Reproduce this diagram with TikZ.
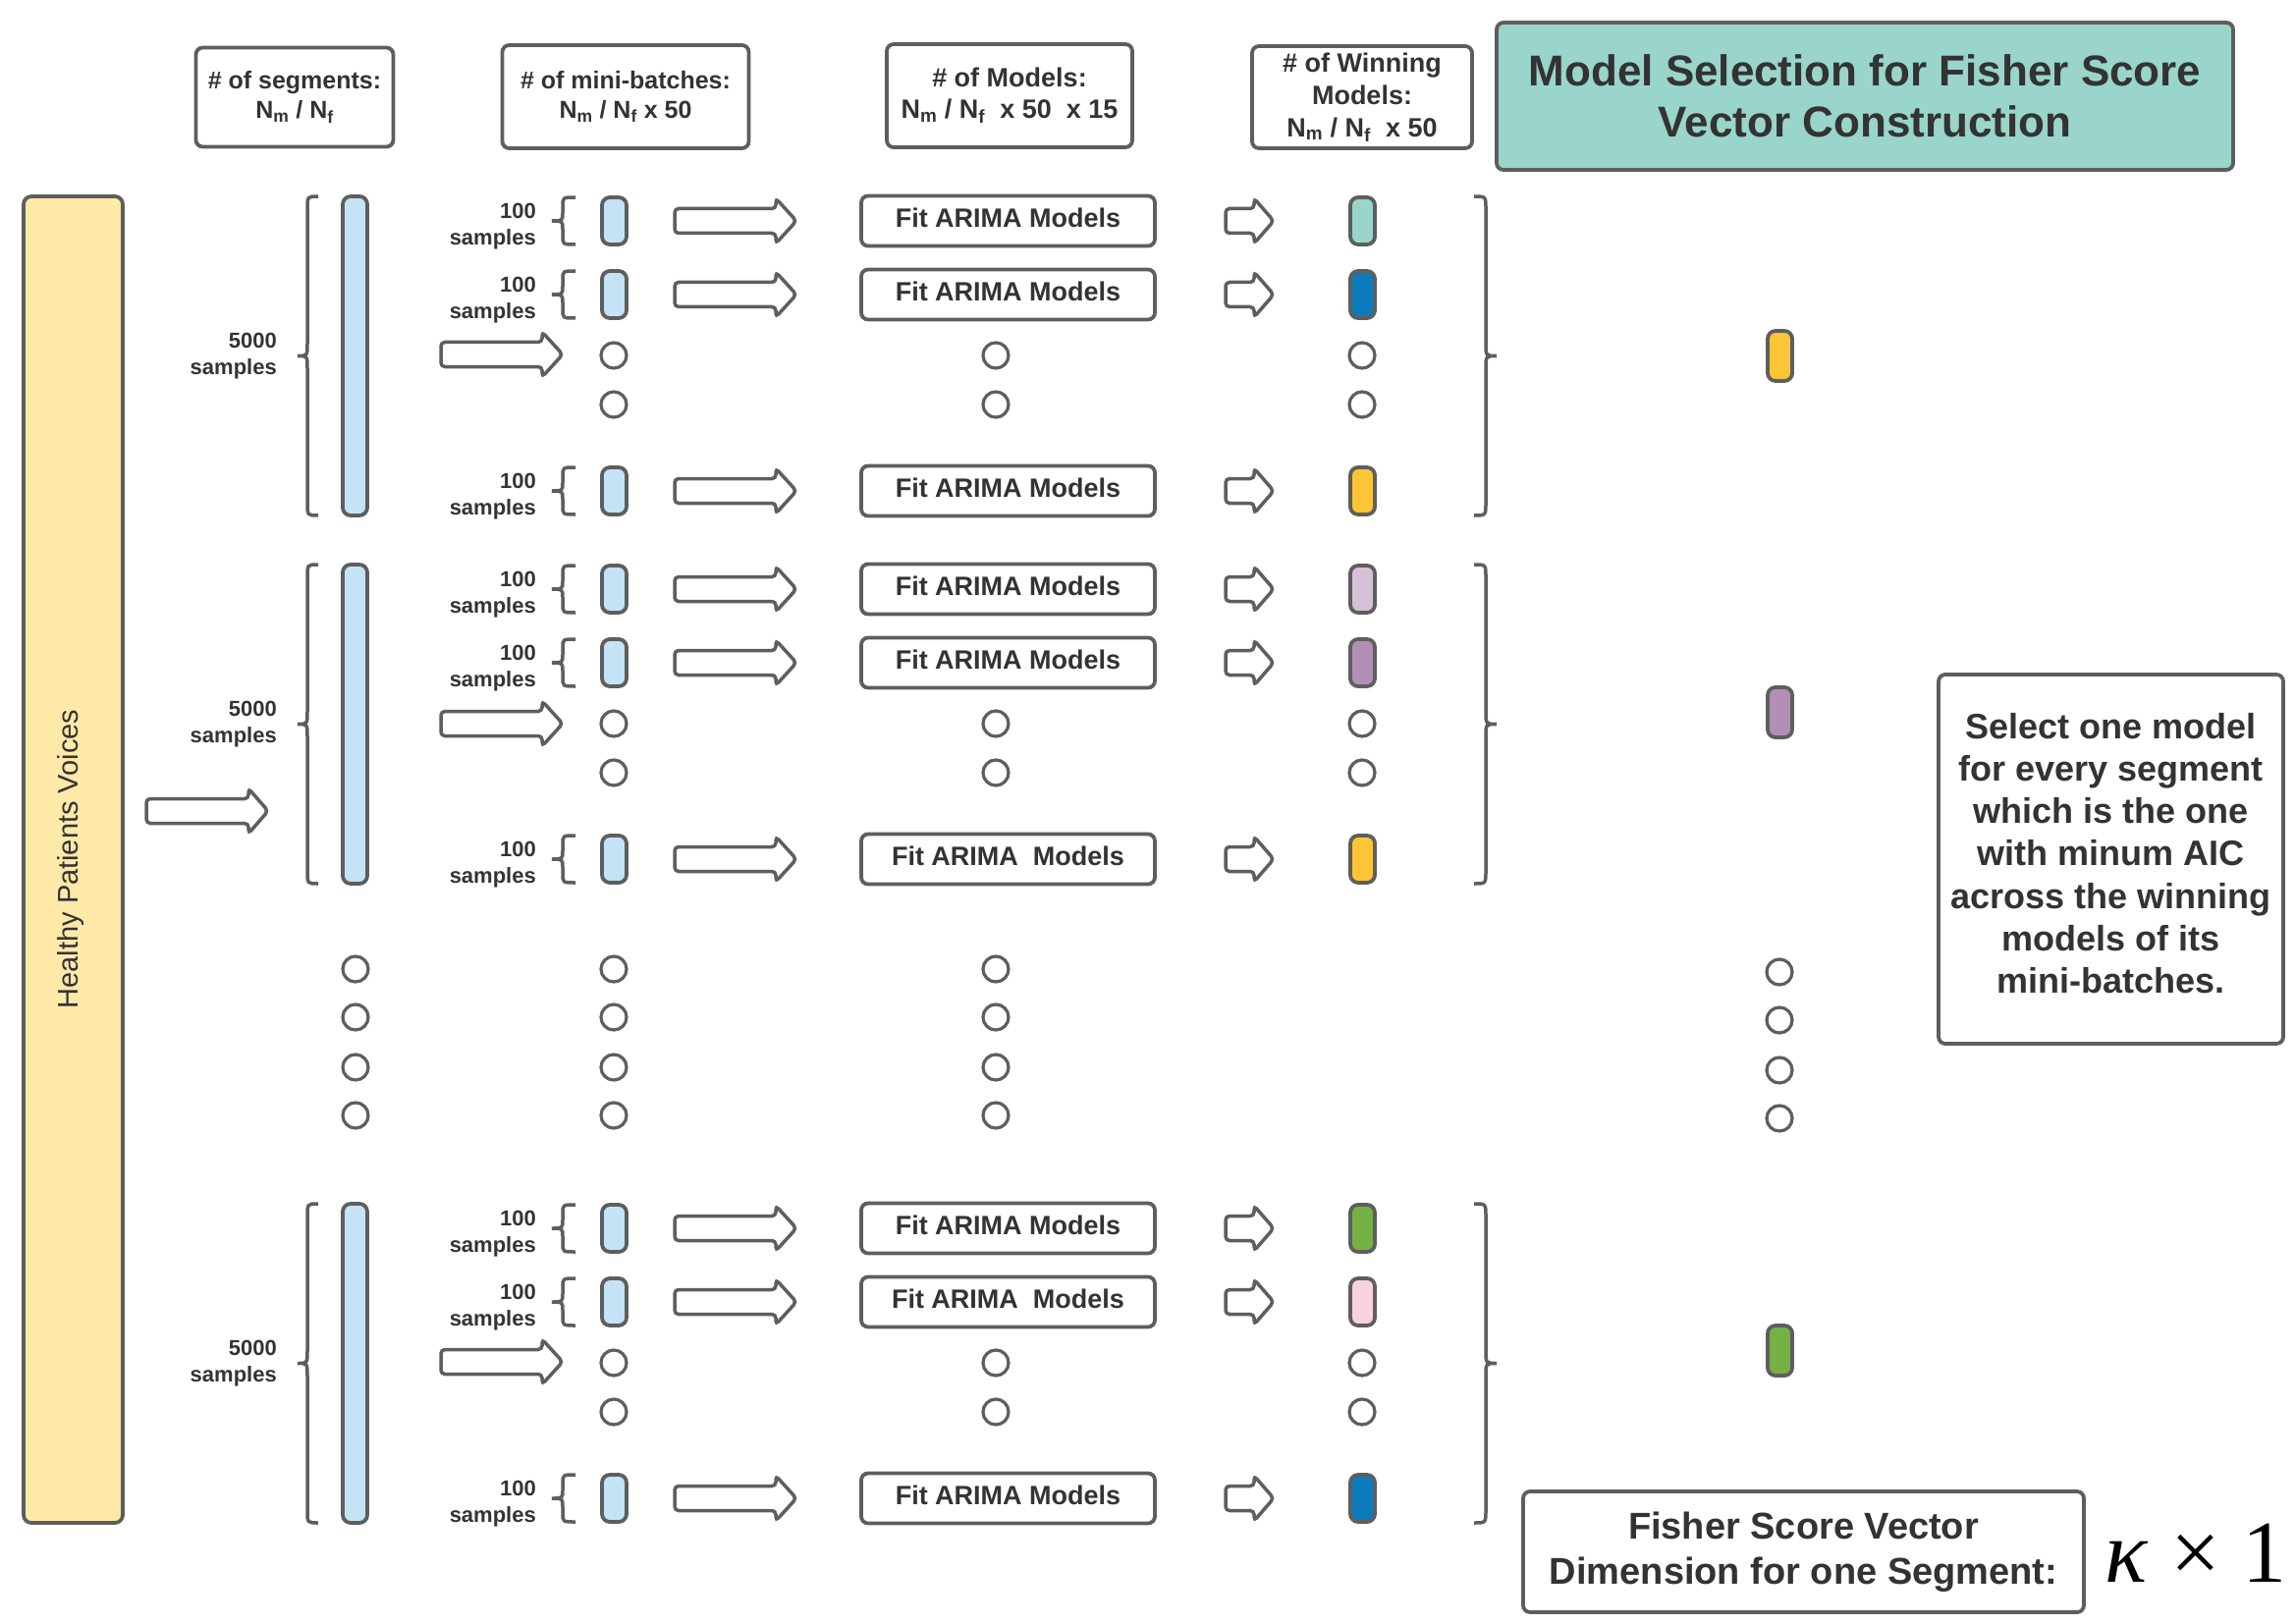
\documentclass[tikz,border=0pt]{standalone}
\usepackage{fontspec}
\setmainfont{Liberation Sans}
\newfontfamily\dimserif{Liberation Serif}
\definecolor{lc}{HTML}{5E5E5E}
\definecolor{txt}{HTML}{333333}
\definecolor{myel}{HTML}{FEE9A8}
\definecolor{lblue}{HTML}{C5E3F6}
\definecolor{mteal}{HTML}{99D5CA}
\definecolor{dblue}{HTML}{0C7BBB}
\definecolor{gold}{HTML}{FBC536}
\definecolor{lpurp}{HTML}{D6C0D6}
\definecolor{purp}{HTML}{B290B6}
\definecolor{mgreen}{HTML}{76B145}
\definecolor{mpink}{HTML}{F9D2DF}
% brace: #1 x of point, #2 x of spine, #3 x of hooks, #4 ytop, #5 ybot, #6 radius
\newcommand\mybrace[6]{%
  \draw[brc] ({#3},{#4}) .. controls ({#2},{#4}) .. ({#2},{#4+#6})
    -- ({#2},{(#4+#5)/2-#6}) .. controls ({#2},{(#4+#5)/2}) .. ({#1},{(#4+#5)/2})
    .. controls ({#2},{(#4+#5)/2}) .. ({#2},{(#4+#5)/2+#6})
    -- ({#2},{#5-#6}) .. controls ({#2},{#5}) .. ({#3},{#5});}
% block arrow: #1 x start, #2 x tip, #3 y centre, #4 head length
\newcommand\blockarr[4]{%
  \draw[barr] ({#1},{#3-12.5}) -- ({#2-#4},{#3-12.5}) -- ({#2-#4},{#3-23}) -- ({#2},{#3})
    -- ({#2-#4},{#3+23}) -- ({#2-#4},{#3+12.5}) -- ({#1},{#3+12.5}) -- cycle;}
% mini-batch row: #1 y, #2 id, #3 fit text, #4 winner colour
\newcommand\mbrow[4]{%
  \node[lbl,anchor=east] (lb#2) at (546,{#1+6}) {100\\samples};
  \mybrace{562}{573}{586}{#1-24}{#1+24}{9}
  \node[pill,fill=lblue] (mb#2) at (625.5,{#1}) {};
  \blockarr{687}{811}{#1}{21}
  \node[fitbox] (fit#2) at (1026.5,{#1}) {#3};
  \blockarr{1248}{1297}{#1}{20}
  \node[pill,fill=#4] (win#2) at (1387.5,{#1}) {};}
\begin{document}
\begin{tikzpicture}[x=1pt,y=-1pt,
  ln/.style={draw=lc,line width=3.8pt},
  brc/.style={draw=lc,line width=3.5pt},
  barr/.style={draw=lc,line width=3.5pt,rounded corners=4pt,fill=white},
  hbox/.style={ln,rounded corners=7pt,fill=white,align=center,text=txt,inner sep=0pt,
    font=\bfseries\fontsize{25}{30}\selectfont},
  pill/.style={ln,rounded corners=8pt,minimum width=25pt,minimum height=48pt,inner sep=0pt},
  selpill/.style={pill,minimum height=51pt},
  bar/.style={ln,rounded corners=8pt,fill=lblue,minimum width=25pt,minimum height=325pt,inner sep=0pt},
  fitbox/.style={ln,rounded corners=7pt,fill=white,minimum width=299pt,minimum height=51pt,inner sep=0pt,
    text depth=6pt,text=txt,font=\bfseries\fontsize{27}{32}\selectfont},
  lbl/.style={align=right,text=txt,inner sep=0pt,font=\bfseries\fontsize{22}{27}\selectfont},
  dot/.style={circle,draw=lc,line width=3.2pt,minimum size=26pt,inner sep=0pt,fill=white}]
\useasboundingbox (0,0) rectangle (2338,1653);

% headers
\node[hbox,minimum width=201pt,minimum height=101pt] (h1) at (300,99) {\# of segments:\\N\textsubscript{m} / N\textsubscript{f}};
\node[hbox,minimum width=251pt,minimum height=105pt] (h2) at (637,98.5) {\# of mini-batches:\\N\textsubscript{m} / N\textsubscript{f} x 50};
\node[hbox,minimum width=250pt,minimum height=105pt,font=\bfseries\fontsize{27}{32}\selectfont] (h3) at (1028,97.5) {\# of Models:\\N\textsubscript{m} / N\textsubscript{f}\ \ x 50\ \ x 15};
\node[hbox,minimum width=224pt,minimum height=104pt,font=\bfseries\fontsize{27}{33}\selectfont] (h4) at (1387,99) {\# of Winning\\Models:\\N\textsubscript{m} / N\textsubscript{f}\ \ x 50};
\node[hbox,fill=mteal,minimum width=750pt,minimum height=150pt,font=\bfseries\fontsize{44}{52}\selectfont] (title) at (1899,98) {Model Selection for Fisher Score\\Vector Construction};

% left bar
\node[ln,rounded corners=8pt,fill=myel,minimum width=101pt,minimum height=1351pt,inner sep=0pt] (voices) at (74.5,875.5) {};
\node[rotate=90,text=txt,font=\fontsize{29}{34}\selectfont] (voicestxt) at (72,875) {Healthy Patients Voices};
\blockarr{149}{273}{826}{20}

% ---------- segment 1 ----------
\node[lbl,anchor=east] (sl1) at (282,363) {5000\\samples};
\mybrace{303}{313}{324}{200}{525}{13}
\node[bar] (seg1) at (361.5,362.5) {};
\blockarr{449}{573}{361}{21}
\mbrow{225}{11}{Fit ARIMA Models}{mteal}
\mbrow{300}{12}{Fit ARIMA Models}{dblue}
\mbrow{500}{13}{Fit ARIMA Models}{gold}
\node[dot] (d1a) at (625,362) {};
\node[dot] (d1b) at (625,412) {};
\node[dot] (d1c) at (1014,362) {};
\node[dot] (d1d) at (1014,412) {};
\node[dot] (d1e) at (1387,362) {};
\node[dot] (d1f) at (1387,412) {};
\mybrace{1524}{1513}{1501}{200}{525}{13}
\node[selpill,fill=gold] (sel1) at (1812.5,362.5) {};

% ---------- segment 2 ----------
\node[lbl,anchor=east] (sl2) at (282,738) {5000\\samples};
\mybrace{303}{313}{324}{575}{900}{13}
\node[bar] (seg2) at (361.5,737.5) {};
\blockarr{449}{573}{737}{21}
\mbrow{600}{21}{Fit ARIMA Models}{lpurp}
\mbrow{675}{22}{Fit ARIMA Models}{purp}
\mbrow{875}{23}{Fit ARIMA\ \ Models}{gold}
\node[dot] (d2a) at (625,737) {};
\node[dot] (d2b) at (625,787) {};
\node[dot] (d2c) at (1014,737) {};
\node[dot] (d2d) at (1014,787) {};
\node[dot] (d2e) at (1387,737) {};
\node[dot] (d2f) at (1387,787) {};
\mybrace{1524}{1513}{1501}{575}{900}{13}
\node[selpill,fill=purp] (sel2) at (1812.5,725.5) {};

% ---------- middle dots ----------
\foreach \yy [count=\i] in {987,1036,1087,1136}{
  \node[dot] (ma\i) at (362,\yy) {};
  \node[dot] (mb\i) at (625,\yy) {};
  \node[dot] (mc\i) at (1014,\yy) {};
  \node[dot] (md\i) at (1812,\yy+3) {};
}

% ---------- segment 3 ----------
\node[lbl,anchor=east] (sl3) at (282,1389) {5000\\samples};
\mybrace{303}{313}{324}{1226}{1551}{13}
\node[bar] (seg3) at (361.5,1388.5) {};
\blockarr{449}{573}{1387}{21}
\mbrow{1251}{31}{Fit ARIMA Models}{mgreen}
\mbrow{1326}{32}{Fit ARIMA\ \ Models}{mpink}
\mbrow{1526}{33}{Fit ARIMA Models}{dblue}
\node[dot] (d3a) at (625,1388) {};
\node[dot] (d3b) at (625,1438) {};
\node[dot] (d3c) at (1014,1388) {};
\node[dot] (d3d) at (1014,1438) {};
\node[dot] (d3e) at (1387,1388) {};
\node[dot] (d3f) at (1387,1438) {};
\mybrace{1524}{1513}{1501}{1226}{1551}{13}
\node[selpill,fill=mgreen] (sel3) at (1812.5,1375.5) {};

% ---------- right side ----------
\node[hbox,minimum width=351pt,minimum height=376pt] (select) at (2149.5,875) {};
\node[align=center,text=txt,inner sep=0pt,font=\bfseries\fontsize{36}{43.2}\selectfont] (selecttxt) at (2149.5,869) {Select one model\\for every segment\\which is the one\\with minum AIC\\across the winning\\models of its\\mini-batches.};
\node[hbox,minimum width=571pt,minimum height=123pt,font=\bfseries\fontsize{38}{46}\selectfont] (fisher) at (1836.5,1580.5) {Fisher Score Vector\\Dimension for one Segment:};
\node[text=black,inner sep=0pt,anchor=base,font=\dimserif\fontsize{90}{100}\selectfont] (dim) at (2236,1611) {\textit{κ} × 1};
\end{tikzpicture}
\end{document}
